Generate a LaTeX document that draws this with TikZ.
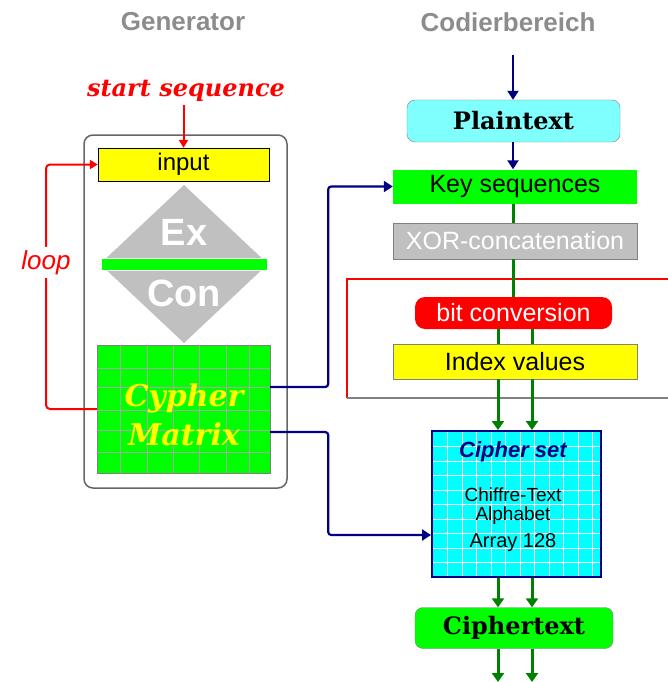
\documentclass[tikz,border=0pt]{standalone}
\usepackage{fontspec}
\setmainfont{Liberation Sans}
\newfontfamily\slabfont{DejaVu Serif}
\usetikzlibrary{arrows.meta}
\definecolor{cmgreen}{RGB}{0,255,0}
\definecolor{cmyellow}{RGB}{255,255,0}
\definecolor{cmcyan}{RGB}{0,255,255}
\definecolor{cmlight}{RGB}{128,255,255}
\definecolor{cmnavy}{RGB}{0,0,128}
\definecolor{cmdkgreen}{RGB}{0,128,0}
\definecolor{cmgray}{RGB}{192,192,192}
\definecolor{cmhead}{RGB}{140,140,140}
\definecolor{cmred}{RGB}{255,0,0}
\begin{document}
\begin{tikzpicture}[x=1pt,y=-1pt,
  head/.style={text=cmhead,font=\bfseries\fontsize{26}{30}\selectfont},
  bar/.style={minimum width=244pt,minimum height=34pt,inner sep=0pt,font=\fontsize{25}{28}\selectfont},
  navyarrow/.style={draw=cmnavy,line width=2.2pt,rounded corners=3pt,-{Triangle[length=9pt,width=11pt]}},
  greenline/.style={draw=cmdkgreen,line width=3pt},
  greenarrow/.style={greenline,-{Triangle[length=9pt,width=12pt]}}]
\useasboundingbox (0,0) rectangle (667,682);
% headings
\node[head] (gen) at (183,22) {Generator};
\node[head] (cod) at (508,22) {Codierbereich};

% generator
\node[draw=gray!80!black,line width=1.5pt,rounded corners=9pt,minimum width=203pt,minimum height=353pt] (genbox) at (185.5,311.5) {};
\fill[cmgray] (184,185) -- (268,264) -- (184,343) -- (100,264) -- cycle;
\draw[white,fill=cmgreen] (101,258) rectangle (267,270);
\node[text=white,font=\bfseries\fontsize{38}{40}\selectfont] (ex) at (184,232) {Ex};
\node[text=white,font=\bfseries\fontsize{38}{40}\selectfont] (con) at (184,293) {Con};
\node[draw=black,fill=cmyellow,minimum width=171pt,minimum height=33pt,inner sep=0pt,
  font=\fontsize{24}{26}\selectfont] (input) at (183.5,164.5) {input};
\node[text=cmred,font=\slabfont\bfseries\itshape\fontsize{24}{28}\selectfont] (start) at (186,91) {start sequence};
\draw[cmred,line width=2pt,-{Triangle[length=8pt,width=9pt]}] (input.north |- start.south) -- (input.north);
\node[fill=cmgreen,draw=gray,minimum width=173pt,minimum height=128pt,inner sep=0pt] (matrix) at (183.5,409) {};
\foreach \gx in {120,147,173,199,226,249}
  \draw[gray!70] (\gx,345) -- (\gx,473);
\foreach \gy in {368,387,410,430,452}
  \draw[gray!70] (97,\gy) -- (270,\gy);
\node[anchor=base,text=cmyellow,font=\slabfont\bfseries\itshape\fontsize{30}{32}\selectfont] (cypher) at (184,406) {Cypher};
\node[anchor=base,text=cmyellow,font=\slabfont\bfseries\itshape\fontsize{30}{32}\selectfont] (mtx) at (184,445) {Matrix};
\coordinate (lp) at (46,409);
\draw[cmred,line width=2pt,rounded corners=4pt,-{Triangle[length=8pt,width=9pt]}] (matrix.west) -- (lp)
  -- node[pos=0.6,fill=white,text=cmred,font=\itshape\fontsize{26}{28}\selectfont] (loop) {loop} (lp |- input.west) -- (input.west);

% coding area
\draw[cmred,line width=1.6pt] (668,279) -- (347,279) -- (347,398);
\draw[gray,line width=1.6pt] (347,398) -- (668,398);
\coordinate (top) at (513,55);
\node[draw=gray,fill=cmlight,rounded corners=8pt,minimum width=213pt,minimum height=42pt,inner sep=0pt,
  font=\slabfont\bfseries\fontsize{24}{26}\selectfont] (plain) at (513.5,121) {Plaintext};
\draw[navyarrow] (top) -- (plain.north -| top);
\node[bar,fill=cmgreen] (key) at (515,186.5) {Key sequences};
\draw[navyarrow] (plain.south -| top) -- (key.north -| top);
\node[bar,fill=cmgray,draw=gray,text=white,minimum height=36pt] (xor) at (515,241) {XOR-concatenation};
\draw[greenline] (key.south -| top) -- (xor.north -| top);
\node[bar,fill=cmred,text=white,rounded corners=10pt,minimum width=197pt,minimum height=32pt] (bit) at (513.5,313) {bit conversion};
\draw[greenline] (xor.south -| top) -- (bit.north -| top);
\node[bar,fill=cmyellow,draw=gray,minimum height=35pt] (index) at (515,361.5) {Index values};
\node[fill=cmcyan,draw=cmnavy,line width=2pt,minimum width=169pt,minimum height=146pt,inner sep=0pt] (cipher) at (516.5,504) {};
\foreach \gx in {447,462,476,491,505,520,534,549,563,578,592}
  \draw[white,line width=1pt] (\gx,432) -- (\gx,576);
\foreach \gy in {446,461,475,490,504,519,533,548,562}
  \draw[white,line width=1pt] (433,\gy) -- (600,\gy);
\node[text=cmnavy,font=\bfseries\itshape\fontsize{22}{24}\selectfont] (cset) at (513,452) {Cipher set};
\node[align=center,font=\fontsize{19}{18.5}\selectfont] (alpha) at (513,506) {Chiffre-Text\\Alphabet};
\node[font=\fontsize{20}{22}\selectfont] (arr) at (513,543) {Array 128};
\node[fill=cmgreen,draw=gray,rounded corners=8pt,minimum width=198pt,minimum height=41pt,inner sep=0pt,
  font=\slabfont\bfseries\fontsize{24}{26}\selectfont] (ctext) at (514,628) {Ciphertext};
\coordinate (out) at (515,682);
\foreach \ax in {498,532} {
  \draw[greenline] (bit.south -| \ax,0) -- (index.north -| \ax,0);
  \draw[greenarrow] (index.south -| \ax,0) -- (cipher.north -| \ax,0);
  \draw[greenarrow] (cipher.south -| \ax,0) -- (ctext.north -| \ax,0);
  \draw[greenarrow] (ctext.south -| \ax,0) -- (out -| \ax,0);
}
\draw[navyarrow] ([yshift=22pt]matrix.east) -- ++(58,0) |- (key.west);
\draw[navyarrow] ([yshift=-23pt]matrix.east) -- ++(58,0) |- ([yshift=-31pt]cipher.west);
\end{tikzpicture}
\end{document}
